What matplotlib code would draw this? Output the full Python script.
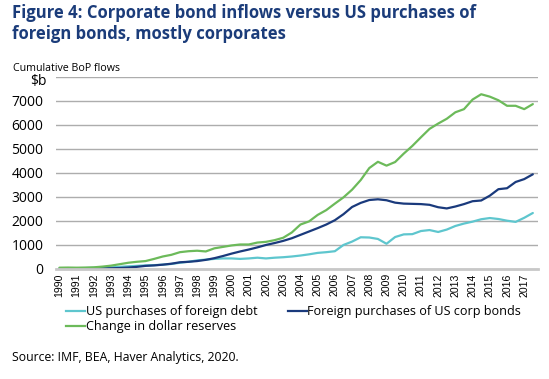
import numpy as np
import matplotlib
matplotlib.use("Agg")
import matplotlib.pyplot as plt
from matplotlib.lines import Line2D

# Semi-annual points, 1990H1 .. 2017H2 (cumulative BoP flows, $b)
periods = np.arange(1990.0, 2018.0, 0.5)

us_foreign_debt = [
    30, 30, 35, 40, 50, 60, 70, 90, 110, 130,
    150, 160, 180, 210, 260, 300, 360, 390, 420, 440,
    440, 420, 440, 470, 440, 470, 490, 520, 560, 610,
    670, 700, 740, 1000, 1140, 1320, 1310, 1250, 1050, 1330,
    1440, 1450, 1580, 1620, 1540, 1640, 1790, 1890, 1970, 2070,
    2120, 2080, 2010, 1960, 2130, 2330,
]
foreign_us_corp = [
    10, 10, 10, 15, 20, 25, 30, 40, 60, 90,
    130, 150, 180, 220, 280, 300, 330, 380, 450, 540,
    640, 730, 810, 900, 1000, 1080, 1170, 1280, 1420, 1560,
    1700, 1850, 2030, 2280, 2580, 2750, 2870, 2900, 2860, 2760,
    2720, 2710, 2700, 2670, 2570, 2520, 2600, 2700, 2820, 2850,
    3050, 3320, 3360, 3620, 3740, 3940,
]
dollar_reserves = [
    55, 60, 55, 60, 70, 100, 140, 200, 260, 300,
    330, 420, 520, 590, 700, 740, 760, 730, 860, 920,
    980, 1020, 1020, 1100, 1130, 1200, 1300, 1520, 1850, 1980,
    2250, 2450, 2720, 2980, 3300, 3700, 4200, 4460, 4300, 4450,
    4800, 5120, 5480, 5830, 6050, 6250, 6520, 6650, 7050, 7270,
    7170, 7020, 6790, 6790, 6650, 6860,
]

year_ticks = list(range(1990, 2018))
y_ticks = [0, 1000, 2000, 3000, 4000, 5000, 6000, 7000]

TITLE_BLUE = "#1B3C7A"
NAVY = "#1A3A7C"
TEAL = "#5EC6CE"
GREEN = "#6CBA5A"
GRID = "#ADADAD"

W, H = 549, 379
fig = plt.figure(figsize=(W / 100, H / 100), dpi=100)
ax = fig.add_axes([56 / W, 1 - 269 / H, 482 / W, (269 - 76.7) / H])

ax.plot(periods, us_foreign_debt, color=TEAL, lw=1.6, solid_capstyle="round")
ax.plot(periods, foreign_us_corp, color=NAVY, lw=1.6, solid_capstyle="round")
ax.plot(periods, dollar_reserves, color=GREEN, lw=1.6, solid_capstyle="round")

ax.set_xlim(1990 - 0.2, 2017.5 + 0.3)
ax.set_ylim(0, 8000)
ax.set_yticks(y_ticks + [8000])
ax.set_yticklabels([str(v) for v in y_ticks] + [""])
ax.set_xticks(year_ticks)
ax.set_xticklabels([str(y) for y in year_ticks], rotation=90,
                   family="Liberation Sans", fontsize=7.6)
ax.tick_params(axis="x", length=0, pad=3)
ax.tick_params(axis="y", length=0, pad=9, labelsize=10)
for lab in ax.get_yticklabels():
    lab.set_family("Open Sans")

ax.grid(axis="y", color=GRID, lw=1.0)
ax.set_axisbelow(True)
for side in ["top", "right", "left"]:
    ax.spines[side].set_visible(False)
ax.spines["bottom"].set_color("#C8C8C8")
ax.spines["bottom"].set_linewidth(2.0)
ax.spines["bottom"].set_zorder(3)

# titles and notes
fig.text(12.5 / W, 1 - 18.3 / H,
         "Figure 4: Corporate bond inflows versus US purchases of",
         family="Open Sans", fontweight="bold", fontsize=12.0,
         color=TITLE_BLUE, va="baseline")
fig.text(12.5 / W, 1 - 39 / H, "foreign bonds, mostly corporates",
         family="Open Sans", fontweight="bold", fontsize=12.0,
         color=TITLE_BLUE, va="baseline")
fig.text(13 / W, 1 - 70.7 / H, "Cumulative BoP flows", family="Open Sans",
         fontsize=7.7, va="baseline")
fig.text(47 / W, 1 - 82 / H, "$b", family="Open Sans", fontsize=10,
         ha="right", va="center")
fig.text(12.5 / W, 1 - 358 / H, "Source: IMF, BEA, Haver Analytics, 2020.",
         family="Open Sans", fontsize=8.8, va="center")

# legend: row 1 teal + navy, row 2 green
handles = [
    Line2D([], [], color=TEAL, lw=1.6),
    Line2D([], [], color=GREEN, lw=1.6),
    Line2D([], [], color=NAVY, lw=1.6),
]
labels = ["US purchases of foreign debt", "Change in dollar reserves",
          "Foreign purchases of US corp bonds"]
fig.legend(handles, labels, ncol=2, loc="upper left",
           bbox_to_anchor=(66 / W, 1 - 305 / H), frameon=False,
           prop={"family": "Open Sans", "size": 9.1},
           handlelength=1.5, handletextpad=0.05, columnspacing=2.4,
           labelspacing=0.18, borderpad=0, borderaxespad=0)

fig.savefig("out.png", dpi=100)
